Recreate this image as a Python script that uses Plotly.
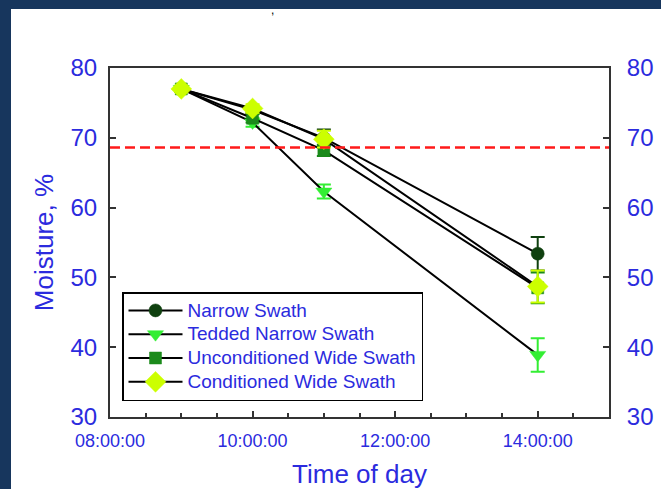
import plotly.graph_objects as go

# ---- data ----
times = ["2020-01-01 09:00:00", "2020-01-01 10:00:00", "2020-01-01 11:00:00", "2020-01-01 14:00:00"]

series_names = ["Narrow Swath", "Tedded Narrow Swath", "Unconditioned Wide Swath", "Conditioned Wide Swath"]
narrow = [77.0, 74.0, 70.0, 53.4]
narrow_err = [0.4, 0.5, 1.2, 2.4]
tedded = [77.0, 72.2, 62.3, 38.9]
tedded_err = [0.4, 0.6, 1.0, 2.4]
uncond = [77.0, 72.8, 68.2, 48.5]
uncond_err = [0.4, 0.6, 0.8, 2.2]
cond = [77.0, 74.2, 69.8, 48.7]
cond_err = [0.4, 0.6, 1.2, 2.3]

threshold = 68.6

x_range = ["2020-01-01 08:00:00", "2020-01-01 15:00:00"]
y_range = [30, 80]

# ---- styling ----
W, H = 661, 489
ML, MR, MT, MB = 110, 52, 68, 72
PW, PH = W - ML - MR, H - MT - MB
BLUE = "#2b2bde"
AXC = "#333333"
FONT = "Liberation Sans, Arial, sans-serif"

styles = [
    dict(symbol="circle", size=13, color="#0f400f"),
    dict(symbol="triangle-down", size=14, color="#33ee33"),
    dict(symbol="square", size=12, color="#1b8a1b"),
    dict(symbol="diamond", size=16, color="#ccff00"),
]
values = [narrow, tedded, uncond, cond]
errors = [narrow_err, tedded_err, uncond_err, cond_err]

fig = go.Figure()
for name, vals, errs, st in zip(series_names, values, errors, styles):
    fig.add_trace(go.Scatter(
        x=times, y=vals, name="<span style='font-size:19px'>" + name + "</span>",
        mode="lines+markers",
        line=dict(color="black", width=2),
        marker=dict(symbol=st["symbol"], size=st["size"], color=st["color"],
                    line=dict(color=st["color"], width=0.5)),
        error_y=dict(type="data", array=errs, visible=True, color=st["color"],
                     thickness=2, width=7),
    ))

# dummy trace to activate the right-hand axis
fig.add_trace(go.Scatter(x=[times[0]], y=[None], yaxis="y2", showlegend=False,
                         hoverinfo="skip", mode="markers"))

px = lambda v: (v - ML) / PW
py = lambda v: (H - MB - v) / PH

shapes = [
    # navy frame (left and top strips)
    dict(type="rect", xref="paper", yref="paper", x0=px(0), x1=px(11), y0=py(H), y1=py(0),
         fillcolor="#17365d", line=dict(width=0), layer="below"),
    dict(type="rect", xref="paper", yref="paper", x0=px(0), x1=px(W), y0=py(9), y1=py(0),
         fillcolor="#17365d", line=dict(width=0), layer="below"),
    # threshold line
    dict(type="line", xref="paper", yref="y", x0=0, x1=1, y0=threshold, y1=threshold,
         line=dict(color="#ff1a1a", width=2.5, dash="10px,5px")),
]

fig.update_layout(
    width=W, height=H,
    margin=dict(l=ML, r=MR, t=MT, b=MB, pad=0, autoexpand=False),
    paper_bgcolor="white", plot_bgcolor="white",
    font=dict(family=FONT, color=BLUE),
    showlegend=True,
    legend=dict(x=px(122), y=py(292), xanchor="left", yanchor="top",
                bgcolor="white", bordercolor="black", borderwidth=1.5,
                font=dict(size=16, color=BLUE, family=FONT), tracegroupgap=0,
                itemwidth=54),
    xaxis=dict(type="date", range=x_range, tick0=x_range[0], dtick=7200000, automargin=False,
               tickformat="%H:%M:%S", ticks="inside", ticklen=6, tickcolor=AXC, tickwidth=1.5,
               minor=dict(dtick=1800000, tick0=x_range[0], ticks="inside", ticklen=4,
                          tickcolor=AXC, tickwidth=1.5),
               showline=True, linecolor=AXC, linewidth=2, mirror=True, showgrid=False,
               zeroline=False, tickfont=dict(size=18, color=BLUE), ticklabelstandoff=6,
               title=dict(text="Time of day", font=dict(size=26, color=BLUE), standoff=21)),
    yaxis=dict(range=y_range, dtick=10, ticks="inside", ticklen=6, tickcolor=AXC, tickwidth=1.5,
               showline=True, linecolor=AXC, linewidth=2, showgrid=False, zeroline=False,
               automargin=False,
               tickfont=dict(size=24, color=BLUE), ticklabelstandoff=6,
               title=dict(text="Moisture, %", font=dict(size=26, color=BLUE), standoff=9)),
    yaxis2=dict(range=y_range, dtick=10, overlaying="y", side="right", anchor="x",
                ticks="inside", ticklen=6, tickcolor=AXC, tickwidth=1.5, automargin=False,
                showline=True, linecolor=AXC, linewidth=2, showgrid=False, zeroline=False,
                tickfont=dict(size=24, color=BLUE), ticklabelstandoff=11),
    shapes=shapes,
    annotations=[dict(text=",", xref="paper", yref="paper", x=px(272), y=py(1),
                      showarrow=False, font=dict(size=12, color="black"),
                      xanchor="center", yanchor="top")],
)

fig.write_html("out.html", config={"displayModeBar": False},
               post_script="document.body.style.margin='0';document.body.style.overflow='hidden';")
